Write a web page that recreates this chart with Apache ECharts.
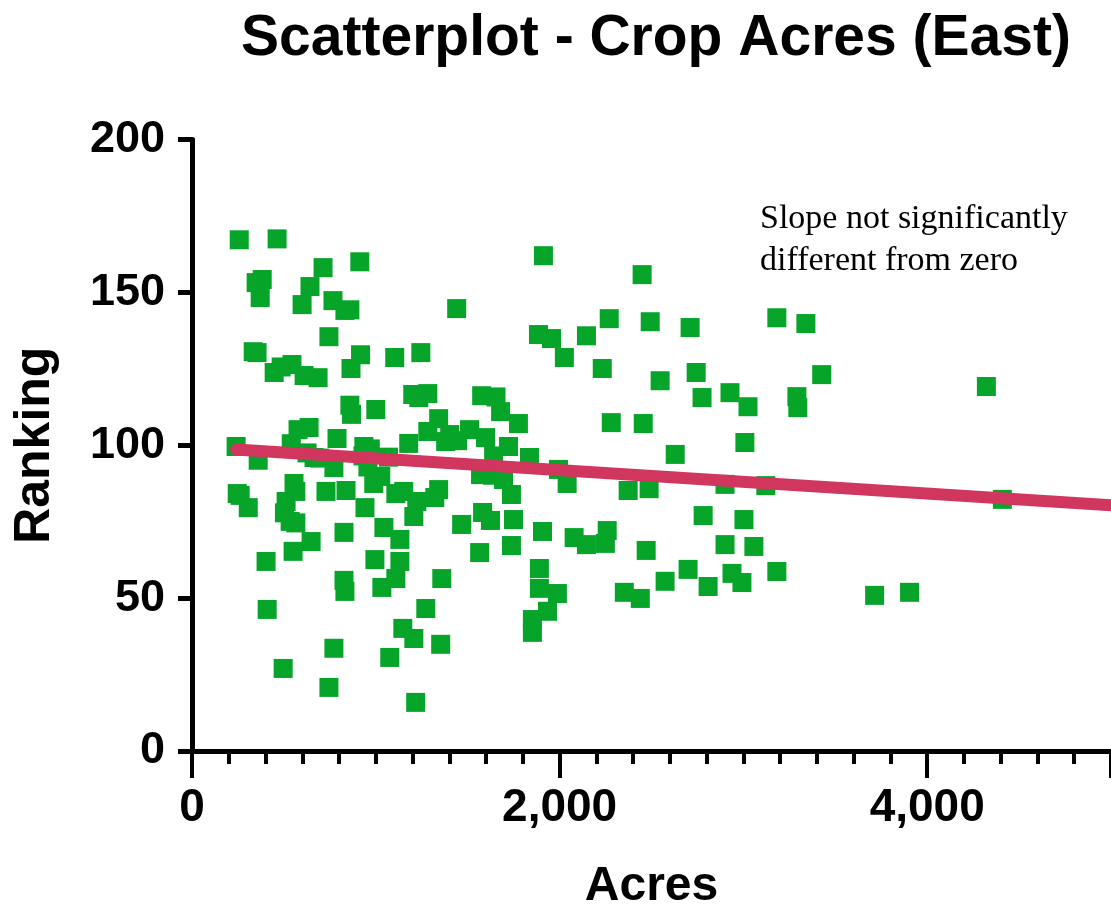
<!DOCTYPE html>
<html>
<head>
<meta charset="utf-8">
<script src="https://cdn.jsdelivr.net/npm/echarts@6/dist/echarts.min.js"></script>
<style>
html,body{margin:0;padding:0;background:#fff;}
#chart{width:1111px;height:905px;}
</style>
</head>
<body>
<div id="chart"></div>
<script>
// Acres (x) for each crop, East region
const acres = [257,463,913,713,382,349,371,642,599,767,832,859,745,333,354,917,447,485,544,610,686,865,859,868,1000,
240,360,577,637,540,789,626,664,695,772,935,970,930,957,989,246,262,306,555,565,512,503,534,565,648,550,729,838,941,1044,827,403,995,827,832,1033,409,772,496,1076,745,
1912,1440,1885,1956,2026,1103,1245,1201,1234,1283,1342,1576,1654,1679,1776,1283,1402,1380,1445,1510,1597,1722,1641,1836,1179,1069,1994,2041,1027,1570,1635,1695,1738,
1109,1152,1223,1321,1342,1207,1467,1581,1624,1749,1907,2079,1131,1565,1738,1131,1109,1359,1890,1890,1988,1934,1852,1852,1272,1147,1207,1353,1217,
2449,2270,2493,2710,2146,3182,3340,2232,2547,2743,2775,2927,3025,3426,3291,3296,2281,2455,3008,2629,2373,2487,2900,3122,2781,3003,2146,2249,2259,2471,2900,3057,2699,2574,2938,2992,3182,2808,2352,2439,
4322,4409,3714,3904];
// Ranking (y) for each crop
const ranking = [167.2,167.5,160.0,158.1,154.2,153.2,148.3,151.9,146.0,147.3,144.1,144.3,135.5,130.6,130.3,129.6,123.8,125.6,126.4,122.8,122.1,125.1,113.1,110.1,111.7,
99.6,95.1,105.1,105.8,100.5,102.2,97.5,96.0,95.8,92.7,99.6,98.8,96.5,92.9,87.5,84.2,83.6,79.6,87.5,84.9,81.6,77.9,75.1,74.6,68.5,65.3,84.9,85.2,79.6,73.1,71.5,62.0,62.6,55.8,52.2,53.5,46.3,33.6,27.0,30.6,20.8,
162.0,144.7,136.2,134.9,128.7,128.7,130.3,116.6,115.6,116.9,108.7,116.2,115.8,111.0,107.1,104.5,103.5,101.2,101.5,105.1,102.5,99.6,96.5,96.0,100.6,96.1,92.1,87.5,89.8,90.4,90.2,88.8,83.9,
84.2,84.9,81.6,82.9,85.5,76.7,74.1,78.0,75.4,75.7,71.8,69.8,69.2,64.9,67.2,62.0,56.4,56.4,59.7,53.2,51.5,45.7,43.0,38.8,46.6,40.1,36.8,34.9,15.9,
155.8,141.4,140.4,138.5,135.8,141.7,139.8,125.1,121.1,123.8,115.6,117.2,112.6,123.1,115.9,112.3,107.4,107.1,100.9,97.0,85.2,85.8,87.2,86.8,77.0,75.7,67.5,67.9,72.1,65.6,67.5,66.9,59.4,55.5,58.1,55.1,58.7,53.8,51.9,49.9,
119.2,82.3,50.9,51.9];
// Linear regression line endpoints
const fitX = [240, 5000];
const fitY = [98.6, 80.4];

const xTicks = {min: 0, max: 5000, interval: 2000};
const yTicks = {min: 0, max: 200, interval: 50};

const titleText = 'Scatterplot - Crop Acres (East)';
const xName = 'Acres';
const yName = 'Ranking';
const noteLines = ['Slope not significantly', 'different from zero'];

const points = acres.map((a, i) => [a, ranking[i]]);
const fitLine = fitX.map((x, i) => [x, fitY[i]]);

const chart = echarts.init(document.getElementById('chart'), null, {renderer: 'canvas'});
const FONT = 'Liberation Sans, Arial, Helvetica, sans-serif';
chart.setOption({
  animation: false,
  backgroundColor: '#ffffff',
  title: {
    text: titleText,
    left: 651,
    top: 6,
    textAlign: 'center',
    textStyle: {fontFamily: FONT, fontWeight: 'bold', fontSize: 57, color: '#000'}
  },
  grid: {left: 192, right: 0, top: 139.5, bottom: 154, containLabel: false, outerBoundsMode: 'none'},
  xAxis: {
    type: 'value',
    min: xTicks.min, max: xTicks.max, interval: xTicks.interval,
    name: xName,
    nameLocation: 'middle',
    nameGap: 112,
    nameTextStyle: {fontFamily: FONT, fontWeight: 'bold', fontSize: 48, color: '#000'},
    axisLine: {show: true, onZero: false, lineStyle: {color: '#000', width: 5}},
    axisTick: {show: true, inside: false, length: 27, lineStyle: {color: '#000', width: 4}},
    minorTick: {show: true, splitNumber: 10, length: 13, lineStyle: {color: '#000', width: 4}},
    splitLine: {show: false},
    minorSplitLine: {show: false},
    axisLabel: {
      margin: 34,
      showMaxLabel: false,
      fontFamily: FONT, fontWeight: 'bold', fontSize: 46, color: '#000',
      formatter: v => v.toLocaleString('en-US')
    }
  },
  yAxis: {
    type: 'value',
    min: yTicks.min, max: yTicks.max, interval: yTicks.interval,
    name: yName,
    nameLocation: 'middle',
    nameGap: 132,
    nameRotate: 90,
    nameTextStyle: {fontFamily: FONT, fontWeight: 'bold', fontSize: 50, color: '#000'},
    axisLine: {show: true, onZero: false, lineStyle: {color: '#000', width: 5}},
    axisTick: {show: true, inside: false, length: 14, lineStyle: {color: '#000', width: 5}},
    splitLine: {show: false},
    axisLabel: {
      margin: 27,
      fontFamily: FONT, fontWeight: 'bold', fontSize: 45, color: '#000'
    }
  },
  series: [
    {
      type: 'scatter',
      data: points,
      symbol: 'rect',
      symbolSize: 19,
      itemStyle: {color: '#07A42A', opacity: 1},
      z: 2
    },
    {
      type: 'line',
      data: fitLine,
      symbol: 'none',
      clip: false,
      lineStyle: {color: '#D0365E', width: 12, cap: 'round'},
      z: 3
    }
  ],
  graphic: [
    {
      type: 'text',
      left: 760,
      top: 198,
      style: {
        text: noteLines.join('\n'),
        fontFamily: 'Liberation Serif, Times New Roman, serif',
        fontSize: 34,
        lineHeight: 42,
        fill: '#000'
      }
    }
  ]
});
</script>
</body>
</html>
